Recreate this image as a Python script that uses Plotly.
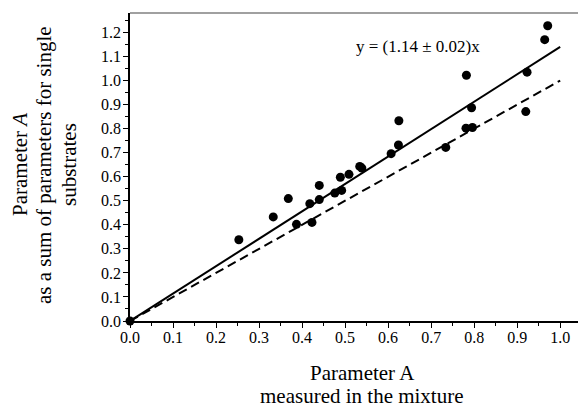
import plotly.graph_objects as go

# Data
x_vals = [0.0, 0.253, 0.333, 0.368, 0.387, 0.418, 0.423, 0.440, 0.440, 0.476, 0.489,
          0.492, 0.509, 0.534, 0.539, 0.607, 0.624, 0.625, 0.734, 0.781, 0.782, 0.794,
          0.796, 0.920, 0.923, 0.964, 0.971]
y_vals = [0.0, 0.338, 0.433, 0.509, 0.402, 0.488, 0.410, 0.505, 0.564, 0.532, 0.598,
          0.543, 0.610, 0.643, 0.636, 0.696, 0.732, 0.833, 0.722, 0.802, 1.022, 0.887,
          0.805, 0.871, 1.035, 1.170, 1.228]
fit_slope = 1.14
line_x = [0.0, 1.0]
fit_y = [fit_slope * v for v in line_x]
ident_y = [v for v in line_x]
eq_text = "y = (1.14 ± 0.02)x"
y_title_lines = ["Parameter <i>A</i>", "as a sum of parameters for single", "substrates"]
x_title_lines = ["Parameter A", "measured in the mixture"]

FONT = "Liberation Serif, Times New Roman, serif"

fig = go.Figure()
fig.add_trace(go.Scatter(x=line_x, y=ident_y, mode="lines",
                         line=dict(color="black", width=2, dash="9px,5px"),
                         showlegend=False, cliponaxis=False))
fig.add_trace(go.Scatter(x=line_x, y=fit_y, mode="lines",
                         line=dict(color="black", width=2),
                         showlegend=False, cliponaxis=False))
fig.add_trace(go.Scatter(x=x_vals, y=y_vals, mode="markers",
                         marker=dict(color="black", size=9),
                         showlegend=False, cliponaxis=False))

# page body has an 8px default margin, so the figure is offset by 8px
fig.update_layout(
    width=578, height=398,
    margin=dict(l=122, r=0, t=5, b=85, autoexpand=False),
    paper_bgcolor="white", plot_bgcolor="white",
    font=dict(family=FONT, size=16, color="black"),
    xaxis=dict(range=[0, 1.06], tickmode="array",
               tickvals=[i / 10 for i in range(11)],
               ticktext=[f"{i/10:.1f}" for i in range(11)],
               ticks="outside", ticklen=5, tickwidth=1, tickcolor="black",
               showline=True, linecolor="black", linewidth=1.5,
               showgrid=False, zeroline=False, ticklabelstandoff=-4,
               minor=dict(dtick=0.05, tick0=0, ticks="outside", ticklen=3,
                          tickcolor="black", showgrid=False),
               tickfont=dict(family=FONT, size=16)),
    yaxis=dict(range=[0, 1.281], tickmode="array",
               tickvals=[i / 10 for i in range(13)],
               ticktext=[f"{i/10:.1f}" for i in range(13)],
               ticks="outside", ticklen=5, tickwidth=1, tickcolor="black",
               showline=True, linecolor="black", linewidth=1.5,
               showgrid=False, zeroline=False, ticklabelstandoff=-1,
               minor=dict(dtick=0.05, tick0=0, ticks="outside", ticklen=3,
                          tickcolor="black", showgrid=False),
               tickfont=dict(family=FONT, size=16)),
    shapes=[dict(type="line", xref="paper", yref="paper", x0=0, x1=1, y0=1, y1=1,
                 line=dict(color="#808080", width=1.5))],
)

fig.add_annotation(x=0.67, y=1.14, xref="x", yref="y", text=eq_text, showarrow=False,
                   font=dict(family=FONT, size=17), xanchor="center", yanchor="middle")

for txt, xs in zip(y_title_lines, [-110, -86, -61]):
    fig.add_annotation(x=0, y=0.5, xref="paper", yref="paper", xshift=xs, yshift=2,
                       text=txt, textangle=-90, showarrow=False,
                       font=dict(family=FONT, size=21), xanchor="center", yanchor="middle")

for txt, ys in zip(x_title_lines, [-52, -75]):
    fig.add_annotation(x=0.5, y=0, xref="paper", yref="paper", xshift=4, yshift=ys,
                       text=txt, showarrow=False,
                       font=dict(family=FONT, size=21), xanchor="center", yanchor="middle")

fig.write_html("out.html")
